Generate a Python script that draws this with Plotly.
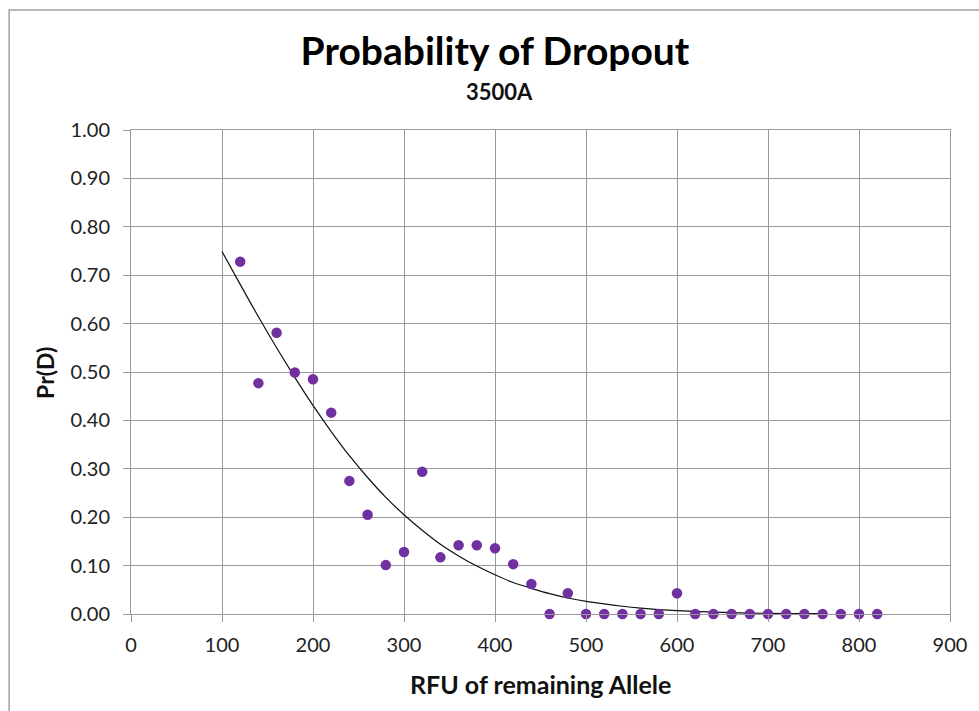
import plotly.graph_objects as go

# Observed dropout probability by RFU of the remaining allele (3500A)
rfu = [120, 140, 160, 180, 200, 220, 240, 260, 280, 300, 320, 340, 360, 380,
       400, 420, 440, 460, 480, 500, 520, 540, 560, 580, 600, 620, 640, 660,
       680, 700, 720, 740, 760, 780, 800, 820]
pr_dropout = [0.728, 0.477, 0.581, 0.499, 0.485, 0.416, 0.275, 0.205, 0.101,
              0.128, 0.294, 0.117, 0.142, 0.142, 0.136, 0.103, 0.062, 0.000,
              0.043, 0.000, 0.000, 0.000, 0.000, 0.000, 0.043, 0.000, 0.000,
              0.000, 0.000, 0.000, 0.000, 0.000, 0.000, 0.000, 0.000, 0.000]

# Fitted dropout curve
fit_rfu = [100, 120, 140, 160, 180, 200, 220, 240, 260, 280, 300, 320, 340,
           360, 380, 400, 420, 440, 460, 480, 500, 520, 540, 560, 580, 600,
           640, 680, 720, 760]
fit_pr = [0.749, 0.681, 0.614, 0.550, 0.489, 0.431, 0.377, 0.327, 0.282,
          0.241, 0.205, 0.173, 0.144, 0.120, 0.099, 0.081, 0.065, 0.053,
          0.042, 0.033, 0.026, 0.021, 0.016, 0.012, 0.009, 0.007, 0.004,
          0.002, 0.001, 0.001]

x_ticks = [0, 100, 200, 300, 400, 500, 600, 700, 800, 900]
y_ticks = [0.0, 0.1, 0.2, 0.3, 0.4, 0.5, 0.6, 0.7, 0.8, 0.9, 1.0]

GRID = "#9a9a9a"
PURPLE = "#7030a0"
FONT = "Lato, Liberation Sans, sans-serif"

fig = go.Figure()

fig.add_trace(go.Scatter(
    x=fit_rfu, y=fit_pr, mode="lines",
    line=dict(color="#111111", width=1.2, shape="spline", smoothing=0.6),
    hoverinfo="skip", showlegend=False,
))
fig.add_trace(go.Scatter(
    x=rfu, y=pr_dropout, mode="markers",
    marker=dict(color=PURPLE, size=10.5, line=dict(width=0)),
    showlegend=False, cliponaxis=False,
))

axis_common = dict(
    showgrid=True, gridcolor=GRID, gridwidth=1,
    showline=True, linecolor=GRID, linewidth=1, mirror=True,
    ticks="outside", ticklen=7, tickcolor=GRID, tickwidth=1,
    zeroline=False,
    tickfont=dict(family=FONT, size=20, color="#222222"),
)

fig.update_xaxes(range=[0, 900], tickvals=x_ticks,
                 ticktext=[str(v) for v in x_ticks],
                 ticklabelstandoff=6, **axis_common)
fig.update_yaxes(range=[0, 1], tickvals=y_ticks,
                 ticktext=[f"{v:.2f}" for v in y_ticks],
                 ticklabelstandoff=9, **axis_common)

fig.update_layout(
    width=979, height=711,
    margin=dict(l=131, r=24, t=130, b=97),
    paper_bgcolor="white", plot_bgcolor="white",
    title=dict(
        text="<b>Probability of Dropout</b>",
        font=dict(family=FONT, size=39, color="#000000"),
        x=495 / 979, xref="container", xanchor="center",
        y=1 - 51 / 711, yref="container", yanchor="middle",
    ),
    annotations=[
        dict(text="<b>3500A</b>", xref="paper", yref="paper",
             x=(502 - 130.7) / 824.6, y=(614 - 91) / 484,
             xanchor="center", yanchor="middle", showarrow=False,
             font=dict(family=FONT, size=22, color="#111111")),
        dict(text="<b>RFU of remaining Allele</b>", xref="paper", yref="paper",
             x=0.5, y=(614 - 684) / 484,
             xanchor="center", yanchor="middle", showarrow=False,
             font=dict(family=FONT, size=25, color="#111111")),
        dict(text="<b>Pr(D)</b>", xref="paper", yref="paper",
             x=(44 - 130.7) / 824.6, y=(614 - 373) / 484, textangle=-90,
             xanchor="center", yanchor="middle", showarrow=False,
             font=dict(family=FONT, size=23, color="#111111")),
    ],
    shapes=[
        # chart-area frame
        dict(type="rect", xref="paper", yref="paper",
             x0=(8 - 130.7) / 824.6, x1=(995 - 130.7) / 824.6,
             y0=(614 - 725) / 484, y1=(614 - 10) / 484,
             line=dict(color="#a0a0a0", width=1.5), layer="below"),
    ],
)

fig.write_html("out.html")
